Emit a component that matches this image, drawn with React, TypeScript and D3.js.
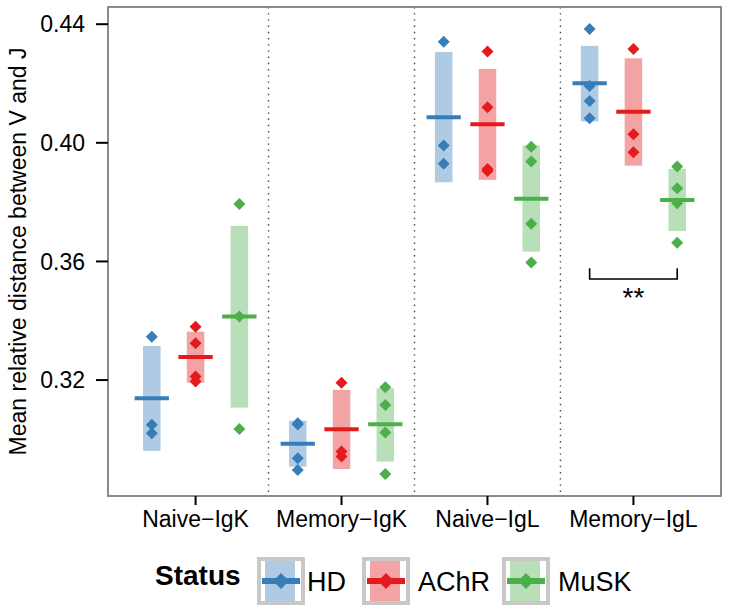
import React from 'react'
import * as d3 from 'd3'

const categories = ['Naive−IgK', 'Memory−IgK', 'Naive−IgL', 'Memory−IgL']
const statuses = ['HD', 'AChR', 'MuSK']
const colors = ['#377EB8', '#E41A1C', '#4DAF4A']
const yTicks = [0.32, 0.36, 0.40, 0.44]

// points per category, one array per status
const hdPoints = [
    [0.3346, 0.3049, 0.3021],
    [0.3054, 0.3050, 0.2936, 0.2897],
    [0.4341, 0.3991, 0.3929],
    [0.4384, 0.4192, 0.4141, 0.4083]
]
const achrPoints = [
    [0.3380, 0.3324, 0.3212, 0.3195],
    [0.3191, 0.2959, 0.2942],
    [0.4308, 0.4120, 0.3912, 0.3905],
    [0.4316, 0.4029, 0.3968]
]
const muskPoints = [
    [0.3794, 0.3414, 0.3035],
    [0.3176, 0.3116, 0.3023, 0.2883],
    [0.3987, 0.3937, 0.3727, 0.3596],
    [0.3920, 0.3847, 0.3796, 0.3663]
]

const hdMean = [0.3139, 0.2985, 0.4086, 0.4201]
const hdLow = [0.2961, 0.2908, 0.3867, 0.4072]
const hdHigh = [0.3315, 0.3063, 0.4306, 0.4327]

const achrMean = [0.3278, 0.3034, 0.4063, 0.4105]
const achrLow = [0.3191, 0.2900, 0.3875, 0.3923]
const achrHigh = [0.3363, 0.3167, 0.4249, 0.4285]

const muskMean = [0.3414, 0.3051, 0.3811, 0.3807]
const muskLow = [0.3107, 0.2925, 0.3633, 0.3703]
const muskHigh = [0.3720, 0.3172, 0.3991, 0.3912]

// significance bracket
const sigCategory = 'Memory−IgL'
const sigFrom = 'HD'
const sigTo = 'MuSK'
const sigValue = 0.3541
const sigTick = 0.0036
const sigLabel = '**'

const width = 729
const height = 611
const left = 108
const right = 721
const top = 7
const bottom = 496
const font = 'Liberation Sans, Arial, Helvetica, sans-serif'

const App = () => {
    const x = d3.scalePoint<string>()
        .domain(categories)
        .range([left, right])
        .padding(0.6)
    const step = x.step()
    const dodge = d3.scalePoint<string>()
        .domain(statuses)
        .range([-0.3 * step, 0.3 * step])
    const y = d3.scaleLinear()
        .domain([0.2809, 0.4458])
        .range([bottom, top])

    const series = [
        { points: hdPoints, mean: hdMean, low: hdLow, high: hdHigh },
        { points: achrPoints, mean: achrMean, low: achrLow, high: achrHigh },
        { points: muskPoints, mean: muskMean, low: muskLow, high: muskHigh }
    ]

    const diamond = d3.symbol().type(d3.symbolSquare).size(72)()
    const keyDiamond = d3.symbol().type(d3.symbolSquare).size(130)()
    const rectW = step * 0.12
    const lineW = step * 0.235

    const seps = categories.slice(1).map(c => (x(c) as number) - step / 2)

    const bx1 = (x(sigCategory) as number) + (dodge(sigFrom) as number)
    const bx2 = (x(sigCategory) as number) + (dodge(sigTo) as number)
    const by = y(sigValue)
    const byTop = y(sigValue + sigTick)

    const legendKeys = [257, 362, 502]
    const legendText = [307, 418, 558]

    return (
        <svg width={width} height={height} style={{ position: 'absolute', left: 0, top: 0 }} fontFamily={font}>
            <rect x={0} y={0} width={width} height={height} fill="white" />

            {seps.map((sx, i) => (
                <line key={i} x1={sx} x2={sx} y1={top} y2={bottom}
                    stroke="#444" strokeWidth={1.4} strokeDasharray="1.4 4.8" />
            ))}

            {series.map((s, si) => categories.map((c, ci) => {
                const cx = (x(c) as number) + (dodge(statuses[si]) as number)
                return (
                    <g key={`${si}-${ci}`}>
                        <rect x={cx - rectW / 2} y={y(s.high[ci])} width={rectW}
                            height={y(s.low[ci]) - y(s.high[ci])}
                            fill={colors[si]} fillOpacity={0.4} />
                        <line x1={cx - lineW / 2} x2={cx + lineW / 2} y1={y(s.mean[ci])} y2={y(s.mean[ci])}
                            stroke={colors[si]} strokeWidth={4} />
                        {s.points[ci].map((v, pi) => (
                            <path key={pi} d={diamond as string} fill={colors[si]}
                                transform={`translate(${cx},${y(v)}) rotate(45)`} />
                        ))}
                    </g>
                )
            }))}

            <path d={`M${bx1},${byTop}V${by}H${bx2}V${byTop}`} fill="none" stroke="black" strokeWidth={1.6} />
            <text x={(bx1 + bx2) / 2} y={307} fontSize={28} textAnchor="middle">{sigLabel}</text>

            <rect x={left} y={top} width={right - left} height={bottom - top}
                fill="none" stroke="#7F7F7F" strokeWidth={1.8} />

            {yTicks.map(t => (
                <g key={t}>
                    <line x1={96} x2={left} y1={y(t)} y2={y(t)} stroke="black" strokeWidth={2} />
                    <text x={85} y={y(t)} dy="0.36em" fontSize={23} textAnchor="end">{t.toFixed(2)}</text>
                </g>
            ))}

            {categories.map(c => (
                <g key={c}>
                    <line x1={x(c)} x2={x(c)} y1={bottom} y2={bottom + 9} stroke="black" strokeWidth={2} />
                    <text x={x(c)} y={527} fontSize={23} textAnchor="middle">{c}</text>
                </g>
            ))}

            <text transform={`translate(26,${(top + bottom) / 2}) rotate(-90)`} fontSize={23} textAnchor="middle">
                Mean relative distance between V and J
            </text>

            <text x={155} y={585} fontSize={28} fontWeight="bold">Status</text>
            {statuses.map((s, i) => (
                <g key={s}>
                    <rect x={legendKeys[i] + 2} y={559} width={44} height={44} fill="white" stroke="#C8C8C8" strokeWidth={4} />
                    <rect x={legendKeys[i] + 8} y={561} width={30} height={40} fill={colors[i]} fillOpacity={0.4} />
                    <line x1={legendKeys[i] + 5} x2={legendKeys[i] + 43} y1={581} y2={581} stroke={colors[i]} strokeWidth={6} />
                    <path d={keyDiamond as string} fill={colors[i]} transform={`translate(${legendKeys[i] + 24},581) rotate(45)`} />
                    <text x={legendText[i]} y={591} fontSize={27}>{s}</text>
                </g>
            ))}
        </svg>
    )
}

export default App
